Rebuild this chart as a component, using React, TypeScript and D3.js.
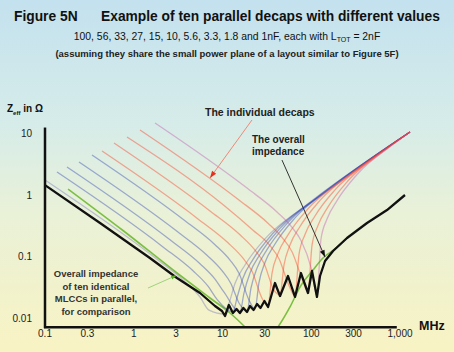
import React from 'react';
import * as d3 from 'd3';

type Pt = [number, number];

// Axis ticks
const xTicks = [0.1, 0.3, 1, 3, 10, 30, 100, 300, 1000];
const xTickLabels = ['0.1', '0.3', '1', '3', '10', '30', '100', '300', '1,000'];
const yTicks = [0.01, 0.1, 1, 10];
const yTickLabels = ['0.01', '0.1', '1', '10'];
const xAxisEnd = 920; // MHz
const yAxisTop = 12.5; // ohm
const yAxisBottom = 0.0071; // ohm

// Capacitor values (nF)
const capValues = [100, 56, 33, 27, 15, 10, 5.6, 3.3, 1.8, 1];

// Individual decap impedance curves [MHz, ohm]
const decap100: Pt[] = [[0.1, 1.754], [1.736, 0.0956], [3.779, 0.03907], [5.579, 0.02196], [7.045, 0.01344], [10.67, 0.01161], [11.84, 0.01728], [13.83, 0.03639], [17.93, 0.07275], [30.12, 0.1933], [85.04, 0.6627], [1296, 10.58]];
const decap56: Pt[] = [[0.1365, 2.366], [2.136, 0.1433], [4.652, 0.05854], [6.866, 0.0329], [8.67, 0.02014], [13.13, 0.01252], [14.57, 0.02131], [17.02, 0.04487], [22.07, 0.0897], [37.07, 0.2384], [104.6, 0.817], [1296, 10.58]];
const decap33: Pt[] = [[0.1769, 2.853], [2.562, 0.1868], [5.579, 0.07638], [8.232, 0.04291], [10.4, 0.02627], [15.75, 0.01252], [17.47, 0.02559], [20.41, 0.05392], [26.45, 0.1078], [44.45, 0.2863], [125.5, 0.9815], [1296, 10.58]];
const decap27: Pt[] = [[0.2416, 3.44], [3.071, 0.2569], [6.689, 0.105], [9.87, 0.05898], [12.47, 0.03611], [15.34, 0.01753], [18.89, 0.013], [20.95, 0.03074], [24.48, 0.06478], [31.72, 0.1295], [53.31, 0.344], [150.5, 1.179], [1296, 10.58]];
const decap15: Pt[] = [[0.3385, 4.47], [3.779, 0.3806], [8.232, 0.1555], [12.15, 0.08738], [15.34, 0.05352], [19.89, 0.01955], [23.24, 0.01401], [25.78, 0.03792], [30.12, 0.07988], [39.04, 0.1597], [65.6, 0.4243], [185.2, 1.454], [1296, 10.58]];
const decap10: Pt[] = [[0.4388, 5.193], [5.295, 0.4088], [11.53, 0.167], [17.02, 0.09384], [21.5, 0.05744], [27.87, 0.02099], [32.56, 0.01567], [36.12, 0.05331], [42.21, 0.1123], [54.7, 0.2245], [91.92, 0.5966], [259.5, 2.044], [1296, 10.58]];
const decap5p6: Pt[] = [[0.599, 7.008], [7.231, 0.5513], [15.75, 0.2253], [23.24, 0.1266], [29.35, 0.07753], [38.04, 0.02831], [44.45, 0.02366], [49.32, 0.07303], [57.62, 0.1538], [74.69, 0.3075], [125.5, 0.817], [354.2, 2.8], [1296, 10.58]];
const decap3p3: Pt[] = [[0.8391, 8.772], [10.67, 0.6553], [22.07, 0.2677], [34.29, 0.1504], [43.32, 0.09209], [56.14, 0.03363], [65.6, 0.02279], [72.78, 0.1082], [85.04, 0.2279], [110.2, 0.4555], [185.2, 1.21], [522.8, 4.148], [1296, 10.58]];
const decap1p8: Pt[] = [[1.176, 11.4], [14.95, 0.8514], [32.56, 0.3478], [48.05, 0.1955], [60.69, 0.1197], [78.68, 0.04372], [91.92, 0.02647], [101.97, 0.1521], [119.2, 0.3204], [154.5, 0.6406], [259.5, 1.702], [732.3, 5.833], [1296, 10.58]];
const decap1: Pt[] = [[1.736, 14.82], [18.89, 1.295], [41.12, 0.5292], [60.69, 0.2973], [76.66, 0.182], [99.36, 0.0665], [116.1, 0.02279], [128.8, 0.1926], [150.5, 0.4057], [195.1, 0.8107], [327.8, 2.154], [925.3, 7.384], [1296, 10.58]];
const decapCurves = [decap100, decap56, decap33, decap27, decap15, decap10, decap5p6, decap3p3, decap1p8, decap1];

// Overall impedance of the ten parallel decaps
const overallImpedance: Pt[] = [[0.1, 1.45], [0.417, 0.35], [1.52, 0.0945], [3.07, 0.0447], [5.58, 0.0255], [8.23, 0.01567], [9.87, 0.013], [10.67, 0.01078], [11.8, 0.01627], [13.1, 0.01206], [14.4, 0.014], [15.7, 0.01206], [17.2, 0.01455], [18.9, 0.01252], [20.4, 0.01567], [22.4, 0.0135], [24.5, 0.01689], [26.8, 0.01455], [29.7, 0.0189], [32.6, 0.0151], [39.0, 0.0371], [44.5, 0.0228], [54.7, 0.0482], [65.6, 0.022], [76.6, 0.0539], [91.9, 0.0255], [102, 0.0581], [116, 0.022], [125.5, 0.0482], [143, 0.0845], [176, 0.1229], [253, 0.2], [425, 0.35], [714, 0.57], [1138, 1.0]];

// Ten identical MLCCs in parallel (comparison)
const identicalMLCCs: Pt[] = [[0.182, 1.25], [0.7566, 0.2647], [3.071, 0.0539], [7.231, 0.02114], [12.15, 0.01206], [17.93, 0.00714], [27.9, 0.00364], [42.2, 0.00714], [57.6, 0.0151], [74.7, 0.0319], [104.6, 0.0603], [135.6, 0.0946], [190, 0.137], [253, 0.2]];

// Annotation anchor points [MHz, ohm]
const redArrowFrom: Pt = [21.5, 16.6];
const redArrowTo: Pt = [7.23, 1.89];
const blackArrowFrom: Pt = [46.8, 3.7];
const blackArrowTo: Pt = [143, 0.098];
const greenArrowFrom: Pt = [1.447, 0.0307];
const greenArrowTo: Pt = [3.0, 0.049];

const decapColor = (i: number) => {
  if (i === 0) return { c: '#7f7fc0', o: 0.45 };
  if (i <= 4) return { c: '#2f44b8', o: 0.42 };
  if (i <= 8) return { c: '#ff3a1e', o: 0.42 };
  return { c: '#c050b0', o: 0.4 };
};

export default function App() {
  const W = 454, H = 352;
  const x = d3.scaleLog().domain([0.1, 1000]).range([45, 400]);
  const y = d3.scaleLog().domain([0.01, 10]).range([318, 133.5]);
  const line = d3.line<Pt>().x(d => x(d[0])).y(d => y(d[1])).curve(d3.curveMonotoneX);
  const lineLin = d3.line<Pt>().x(d => x(d[0])).y(d => y(d[1]));
  const font = '"Liberation Sans", Arial, sans-serif';
  const axisY = y(yAxisBottom);
  const axisX = x(0.1);

  const arrowHead = (from: Pt, to: Pt, color: string, len: number, wid: number) => {
    const x1 = x(from[0]), y1 = y(from[1]), x2 = x(to[0]), y2 = y(to[1]);
    const a = Math.atan2(y2 - y1, x2 - x1);
    const bx = x2 - len * Math.cos(a), by = y2 - len * Math.sin(a);
    const px = -Math.sin(a) * wid / 2, py = Math.cos(a) * wid / 2;
    return <path d={`M${x2},${y2}L${bx + px},${by + py}L${bx - px},${by - py}Z`} fill={color} />;
  };

  return (
    <svg width={W} height={H} style={{ position: 'absolute', left: 0, top: 0 }} fontFamily={font}>
      <defs>
        <linearGradient id="bg" x1="0" y1="0" x2="0" y2="1">
          <stop offset="0" stopColor="#c3e1ee" />
          <stop offset="0.35" stopColor="#d6ece9" />
          <stop offset="0.6" stopColor="#e9f1d8" />
          <stop offset="1" stopColor="#f8f3c3" />
        </linearGradient>
        <clipPath id="plotClip">
          <rect x={0} y={0} width={W} height={axisY} />
        </clipPath>
      </defs>
      <rect width={W} height={H} fill="url(#bg)" />

      {/* Titles */}
      <text x={14} y={21} fontSize={13.8} fontWeight="bold" fill="#111">Figure 5N</text>
      <text x={101} y={21} fontSize={13.8} fontWeight="bold" fill="#111">Example of ten parallel decaps with different values</text>
      <text x={227} y={40} fontSize={10.4} textAnchor="middle" fill="#111">
        {capValues.slice(0, 9).join(', ')} and {capValues[9]}nF, each with L<tspan fontSize={7} dy={2}>TOT</tspan><tspan dy={-2}> = 2nF</tspan>
      </text>
      <text x={227} y={57} fontSize={9.5} fontWeight="bold" textAnchor="middle" fill="#222">(assuming they share the small power plane of a layout similar to Figure 5F)</text>

      {/* Y label */}
      <text x={7} y={112} fontSize={10} fontWeight="bold" fill="#111">Z<tspan fontSize={6} dy={2.5}>eff</tspan><tspan dy={-2.5}> in Ω</tspan></text>

      <g clipPath="url(#plotClip)">
        <path d={line(identicalMLCCs) || ''} fill="none" stroke="#7cc043" strokeWidth={1.6} />
        {decapCurves.map((c, i) => {
          const col = decapColor(i);
          return <path key={i} d={line(c) || ''} fill="none" stroke={col.c} strokeOpacity={col.o} strokeWidth={1.3} />;
        })}
        <path d={lineLin(overallImpedance) || ''} fill="none" stroke="#111" strokeWidth={2.3} strokeLinejoin="round" />
      </g>

      {/* Axes */}
      <line x1={axisX} x2={axisX} y1={y(yAxisTop)} y2={axisY + 1} stroke="#111" strokeWidth={2.5} />
      <line x1={axisX - 1} x2={x(xAxisEnd)} y1={axisY} y2={axisY} stroke="#111" strokeWidth={2.5} />
      {yTicks.map((t, i) => (
        <text key={t} x={32} y={y(t) + 3.5} fontSize={10} textAnchor="end" fill="#222">{yTickLabels[i]}</text>
      ))}
      {xTicks.map((t, i) => (
        <text key={t} x={x(t)} y={337} fontSize={10} textAnchor="middle" fill="#222">{xTickLabels[i]}</text>
      ))}
      <text x={419} y={330} fontSize={12.5} fontWeight="bold" fill="#111">MHz</text>

      {/* Annotations */}
      <text x={205} y={115.5} fontSize={10.5} fontWeight="bold" fill="#222">The individual decaps</text>
      <line x1={x(redArrowFrom[0])} y1={y(redArrowFrom[1])} x2={x(redArrowTo[0])} y2={y(redArrowTo[1])} stroke="#f08878" strokeWidth={1} />
      {arrowHead(redArrowFrom, redArrowTo, '#e8301c', 7, 5)}

      <text x={252} y={143} fontSize={10} fontWeight="bold" fill="#222">The overall</text>
      <text x={252} y={155} fontSize={10} fontWeight="bold" fill="#222">impedance</text>
      <line x1={x(blackArrowFrom[0])} y1={y(blackArrowFrom[1])} x2={x(blackArrowTo[0])} y2={y(blackArrowTo[1])} stroke="#333" strokeWidth={1} />
      {arrowHead(blackArrowFrom, blackArrowTo, '#111', 7, 5)}

      <line x1={x(greenArrowFrom[0])} y1={y(greenArrowFrom[1])} x2={x(greenArrowTo[0])} y2={y(greenArrowTo[1])} stroke="#9fd27a" strokeWidth={1} />
      {arrowHead(greenArrowFrom, greenArrowTo, '#5fae2c', 5, 4)}
      {['Overall impedance', 'of ten identical', 'MLCCs in parallel,', 'for comparison'].map((s, i) => (
        <text key={i} x={96} y={277 + i * 12.5} fontSize={9.5} fontWeight="bold" textAnchor="middle" fill="#333">{s}</text>
      ))}
    </svg>
  );
}
